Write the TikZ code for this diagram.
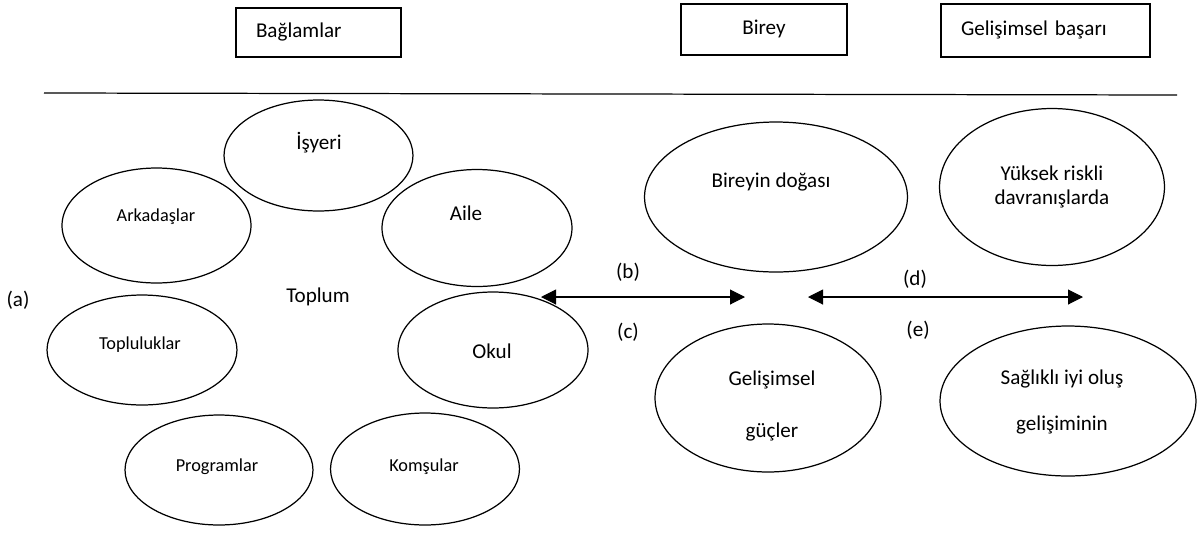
\documentclass[tikz,border=0pt]{standalone}
\usepackage{fontspec}
\setmainfont{Carlito}
\usetikzlibrary{shapes.geometric,arrows.meta,positioning,calc}

\begin{document}
\begin{tikzpicture}[x=0.02cm, y=-0.02cm,
    box/.style={draw, line width=0.7pt, inner xsep=0.4cm, text height=8.5pt, text depth=2.5pt, font=\fontsize{12}{14}\selectfont},
    oval/.style={draw, ellipse, line width=0.7pt, inner sep=0pt},
    big/.style={font=\fontsize{12}{14}\selectfont, align=center},
    small/.style={font=\fontsize{10.4}{12.5}\selectfont},
    twoway/.style={{Triangle[length=0.3cm, width=0.3cm]}-{Triangle[length=0.3cm, width=0.3cm]}, line width=0.6pt}
]
\useasboundingbox (0,0) rectangle (1198,535);

% Header boxes
\node[box, minimum width=3.3cm, minimum height=0.98cm, text width=2.5cm, align=left] (baglam) at (318.5,32.5) {Bağlamlar};
\node[box, minimum width=3.32cm, minimum height=1.02cm] (birey) at (764,29.5) {Birey};
\node[box, minimum width=4.18cm, minimum height=1.06cm, text width=3.38cm, align=left] (basari) at (1045.5,30.5) {Gelişimsel başarı};

% Rule
\coordinate (ruleL) at (44,93);
\coordinate (ruleR) at (1177,95);
\draw[line width=0.7pt] (ruleL) -- (ruleR);

% Contexts
\node[oval, minimum width=3.78cm, minimum height=2.22cm] (isyeri) at (318.5,155.5) {};
\node[oval, minimum width=3.78cm, minimum height=2.3cm] (arkadas) at (156.5,225.5) {};
\node[oval, minimum width=3.8cm, minimum height=2.34cm] (aile) at (477,228) {};
\node[oval, minimum width=3.8cm, minimum height=2.2cm] (topluluk) at (142,350) {};
\node[oval, minimum width=3.8cm, minimum height=2.32cm] (okul) at (493,350) {};
\node[oval, minimum width=3.76cm, minimum height=2.2cm] (program) at (219,470) {};
\node[oval, minimum width=3.78cm, minimum height=2.24cm] (komsu) at (425,469) {};

\node[big] (isyeri-t) at (319,143) {İşyeri};
\node[small] (arkadas-t) at (156,217) {Arkadaşlar};
\node[big] (aile-t) at (466,213) {Aile};
\node[small] (topluluk-t) at (140,345) {Topluluklar};
\node[big] (okul-t) at (492,351) {Okul};
\node[small] (program-t) at (217,467) {Programlar};
\node[small] (komsu-t) at (424,467) {Komşular};
\node[big] (toplum) at (318,297) {Toplum};
\node[big] (a) at (18,300) {(a)};

% Individual
\node[oval, minimum width=5.26cm, minimum height=3cm] (doga) at (776,197) {};
\node[oval, minimum width=4.52cm, minimum height=2.96cm] (guc) at (768,398) {};
\node[big] (doga-t) at (771,182) {Bireyin doğası};
\node[big] (guc-t) at (772,406) {Gelişimsel\\[0.55cm]güçler};

% Outcomes
\node[oval, minimum width=4.5cm, minimum height=3.14cm] (risk) at (1052,187) {};
\node[oval, minimum width=5.12cm, minimum height=3cm] (saglik) at (1068,401) {};
\node[big] (risk-t) at (1052,187) {Yüksek riskli\\davranışlarda};
\node[big] (saglik-t) at (1062,402) {Sağlıklı iyi oluş\\[0.42cm]gelişiminin};

% Links
\coordinate (l1a) at (541,297);
\coordinate (l1b) at (745,297);
\coordinate (l2a) at (808,297);
\coordinate (l2b) at (1083,297);
\draw[twoway] (l1a) -- (l1b);
\draw[twoway] (l2a) -- (l2b);
\node[big] (b) at (628,272) {(b)};
\node[big] (c) at (628,332) {(c)};
\node[big] (d) at (915,279) {(d)};
\node[big] (e) at (918,330) {(e)};

\end{tikzpicture}
\end{document}
